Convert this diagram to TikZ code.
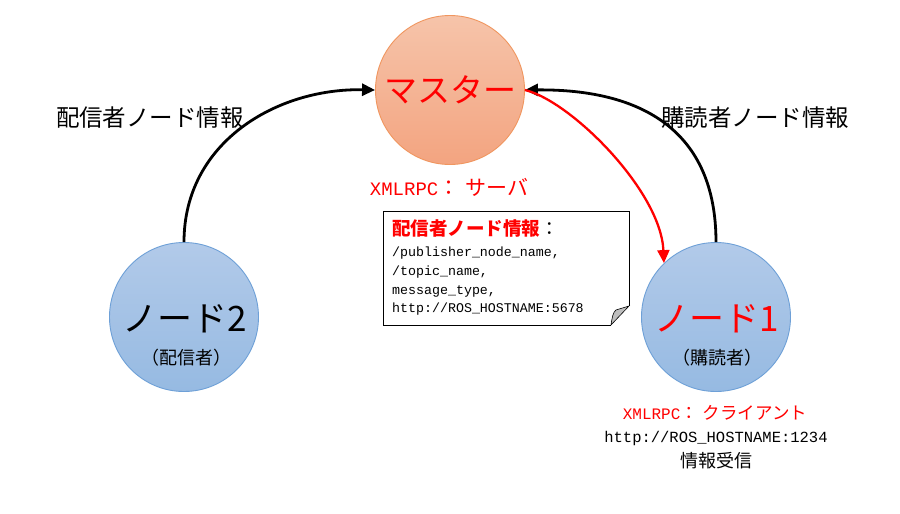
\documentclass[tikz,border=0pt]{standalone}
\usepackage{fontspec}
\setmainfont{Noto Sans CJK JP}
\newfontfamily\cjk{Noto Sans CJK JP}
\newfontfamily\mono{Liberation Mono}
\usetikzlibrary{arrows.meta}
\definecolor{mtop}{RGB}{246,196,170}
\definecolor{mbot}{RGB}{243,164,128}
\definecolor{mline}{RGB}{240,150,95}
\definecolor{ntop}{RGB}{178,202,233}
\definecolor{nbot}{RGB}{150,186,226}
\definecolor{nline}{RGB}{110,160,215}
\definecolor{foldgray}{RGB}{190,190,190}
\newcommand{\fs}[1]{\fontsize{#1}{#1}\selectfont}
\begin{document}
\begin{tikzpicture}[x=1pt,y=-1pt,
  circ/.style={circle,minimum size=149pt,inner sep=0pt,line width=0.9pt},
  masterc/.style={circ,draw=mline,top color=mtop,bottom color=mbot},
  nodec/.style={circ,draw=nline,top color=ntop,bottom color=nbot},
  blackarr/.style={line width=2.8pt,black,-{Triangle[length=13pt,width=12pt]}},
  redarr/.style={line width=2.3pt,red,-{Triangle[length=13pt,width=12pt]}},
  lbl/.style={inner sep=0pt,font=\cjk\fs{23.5}},
]
\useasboundingbox (0,0) rectangle (900,514);
\fill[white] (0,0) rectangle (900,514);

% circles
\node[masterc] (m) at (450,90) {};
\node[nodec] (n2) at (184,317) {};
\node[nodec] (n1) at (716,317) {};

% circle texts
\node[inner sep=0pt,text=red,font=\cjk\fs{33}] (mt) at (450,90) {マスター};
\node[inner sep=0pt,font=\cjk\fs{35}] (n2t) at (185,319) {ノード2};
\node[inner sep=0pt,font=\cjk\fs{18}] (n2s) at (186,358) {（配信者）};
\node[inner sep=0pt,text=red,font=\cjk\fs{35}] (n1t) at (717,319) {ノード1};
\node[inner sep=0pt,font=\cjk\fs{18}] (n1s) at (717,358) {（購読者）};

% arrows
\draw[blackarr] (n2.north) .. controls +(0,-100) and +(-98,-2) .. (m.west);
\draw[blackarr] (n1.north) .. controls +(0,-112) and +(116,-1) .. (m.east);
\draw[redarr] (m.east) .. controls +(46,11) and +(-3,-72) .. (n1.134);

% labels above arrows
\node[lbl] (lpub) at (150,118) {配信者ノード情報};
\node[lbl] (lsub) at (755,118) {購読者ノード情報};

% master label
\node[inner sep=0pt,text=red] (ms) at (449,187) {{\mono\fs{19}XMLRPC}{\cjk\fs{21}：\hspace{6pt}サーバ}};

% note box
\coordinate (nA) at (383,211);
\coordinate (nB) at (629,211);
\coordinate (nC) at (629,306);
\coordinate (nD) at (611,325);
\coordinate (nE) at (383,325);
\fill[white] (nA) -- (nB) -- (nC) -- (nD) -- (nE) -- cycle;
\draw[line width=0.9pt] (nC) -- (nB) -- (nA) -- (nE) -- (nD);
\draw[line width=0.6pt,fill=foldgray] (nD) .. controls (612,318) and (613,312) .. (616,310) -- (nC) -- cycle;
\node[anchor=north west,inner sep=0pt,align=left,font=\mono\fontsize{13.3}{18.7}\selectfont] (nt) at (392,219)
  {{\cjk\fs{18.5}\textcolor{red}{\bfseries 配信者ノード情報}：}\\[3pt]
   /publisher\_node\_name,\\
   /topic\_name,\\
   message\_type,\\
   http://ROS\_HOSTNAME:5678};

% node1 labels below
\node[inner sep=0pt,text=red] (xc) at (715,413) {{\mono\fs{16}XMLRPC}{\cjk\fs{17.5}：\hspace{5pt}クライアント}};
\node[inner sep=0pt,font=\mono\fs{15.5}] (url) at (716,438) {http://ROS\_HOSTNAME:1234};
\node[inner sep=0pt,font=\cjk\fs{18}] (recv) at (716,461) {情報受信};
\end{tikzpicture}
\end{document}
